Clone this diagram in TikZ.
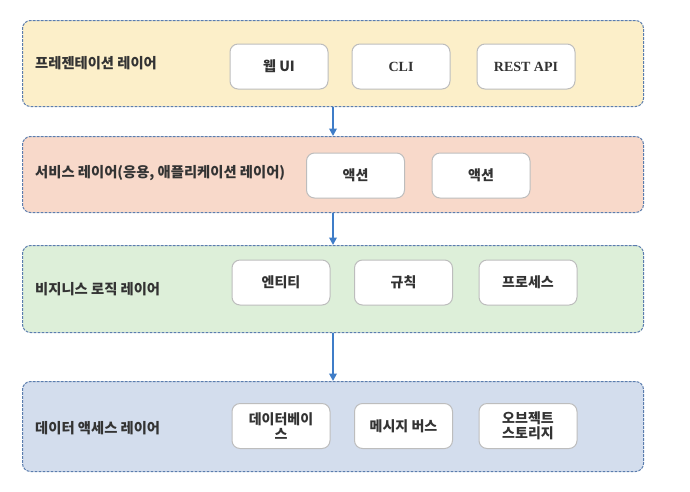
\documentclass[tikz,border=0pt]{standalone}
\usepackage{fontspec}
\setmainfont{Noto Sans CJK KR}
\newfontfamily\serifb{Liberation Serif}
\usetikzlibrary{arrows.meta}
\definecolor{layerline}{HTML}{5B7DAE}
\definecolor{fillA}{HTML}{FCEFC9}
\definecolor{fillB}{HTML}{F8D9CA}
\definecolor{fillC}{HTML}{DDEFD9}
\definecolor{fillD}{HTML}{D3DDED}
\definecolor{boxline}{HTML}{BDBDBD}
\definecolor{txt}{HTML}{333333}
\definecolor{arrowc}{HTML}{3F7DC8}
\tikzset{
  layer/.style={draw=layerline, line width=1pt, dash pattern=on 2.8pt off 1.2pt,
    rounded corners=8pt, anchor=north west, minimum width=621pt, inner sep=0pt},
  item/.style={draw=boxline, line width=1pt, fill=white, rounded corners=8pt,
    minimum width=98pt, minimum height=45pt, inner sep=1pt, align=center,
    font=\fontsize{14}{15.5}\selectfont\bfseries, text=txt},
  lbl/.style={anchor=west, font=\fontsize{14.3}{16}\selectfont\bfseries, text=txt, inner sep=0pt},
  flow/.style={draw=arrowc, line width=1.8pt, -{Triangle[length=7.5pt,width=7.5pt]}}
}
\begin{document}
\begin{tikzpicture}[x=1pt,y=-1pt]
\useasboundingbox (0,0) rectangle (690,491);
\fill[white] (0,0) rectangle (690,491);
% layers
\node[layer, fill=fillA, minimum height=86pt] (L1) at (22,20) {};
\node[layer, fill=fillB, minimum height=76pt] (L2) at (22,136) {};
\node[layer, fill=fillC, minimum height=87pt] (L3) at (22,245) {};
\node[layer, fill=fillD, minimum height=90pt] (L4) at (22,381) {};
% labels
\node[lbl] (t1) at (35,63) {프레젠테이션 레이어};
\node[lbl] (t2) at (35,173) {서비스 레이어(응용, 애플리케이션 레이어)};
\node[lbl] (t3) at (35,289) {비지니스 로직 레이어};
\node[lbl] (t4) at (35,428) {데이터 액세스 레이어};
% items
\node[item] (a1) at (279,66.5) {웹 UI};
\node[item] (a2) at (401,66.5) {\serifb\bfseries CLI};
\node[item] (a3) at (526,66.5) {\serifb\bfseries REST API};
\node[item] (b1) at (355.5,175.5) {액션};
\node[item] (b2) at (481,175.5) {액션};
\node[item] (c1) at (281,282.5) {엔티티};
\node[item] (c2) at (403.5,282.5) {규칙};
\node[item] (c3) at (528,282.5) {프로세스};
\node[item] (d1) at (281,426) {데이터베이\\스};
\node[item] (d2) at (403.5,426) {메시지 버스};
\node[item] (d3) at (528,426) {오브젝트\\스토리지};
% arrows
\draw[flow] (L1.south) -- (L2.north);
\draw[flow] (L2.south) -- (L3.north);
\draw[flow] (L3.south) -- (L4.north);
\end{tikzpicture}
\end{document}
